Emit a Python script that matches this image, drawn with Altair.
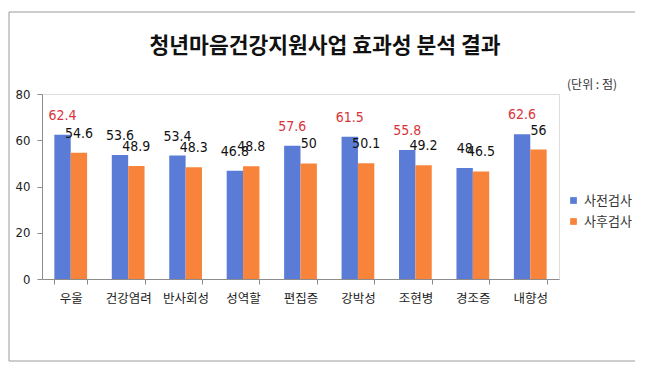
import altair as alt
import pandas as pd

title_text = "청년마음건강지원사업 효과성 분석 결과"
unit_text = "(단위 : 점)"
categories = ["우울", "건강염려", "반사회성", "성역할", "편집증", "강박성", "조현병", "경조증", "내향성"]
pre_values = [62.4, 53.6, 53.4, 46.8, 57.6, 61.5, 55.8, 48, 62.6]
post_values = [54.6, 48.9, 48.3, 48.8, 50, 50.1, 49.2, 46.5, 56]
pre_significant = [True, False, False, False, True, True, True, False, True]
series_names = ["사전검사", "사후검사"]
colors = ["#5A7CD6", "#F7843A"]

rows = []
for i, c in enumerate(categories):
    rows.append({"cat": c, "series": series_names[0], "value": pre_values[i],
                 "label": f"{pre_values[i]:g}", "lc": "#D9343A" if pre_significant[i] else "#111111"})
    rows.append({"cat": c, "series": series_names[1], "value": post_values[i],
                 "label": f"{post_values[i]:g}", "lc": "#111111"})
df = pd.DataFrame(rows)

KFONT = "Noto Sans CJK KR"
NFONT = "Liberation Sans Narrow, Arial Narrow, DejaVu Sans Condensed, Noto Sans CJK KR, sans-serif"

xenc = alt.X("cat:N", sort=categories, title=None,
             scale=alt.Scale(paddingInner=0.43, paddingOuter=0.215),
             axis=alt.Axis(labelAngle=0, labelFont=KFONT, labelFontSize=12.5, labelColor="#222222",
                           labelPadding=8, tickSize=5, tickBand="extent", domainColor="#8C8C8C",
                           tickColor="#8C8C8C"))
yenc = alt.Y("value:Q", title=None, stack=None,
             scale=alt.Scale(domain=[0, 80]),
             axis=alt.Axis(values=[0, 20, 40, 60, 80], grid=False, labelFont=NFONT, labelFontSize=13,
                           labelColor="#222222", labelPadding=7, tickSize=5,
                           domainColor="#8C8C8C", tickColor="#8C8C8C"))

bars = alt.Chart(df).mark_bar().encode(
    x=xenc,
    y=yenc,
    xOffset=alt.XOffset("series:N", sort=series_names),
    color=alt.Color("series:N", sort=series_names,
                    scale=alt.Scale(domain=series_names, range=colors),
                    legend=alt.Legend(title=None, orient="none", legendX=525, legendY=100,
                                      symbolType="square", symbolSize=45, symbolStrokeWidth=0,
                                      labelFont=KFONT, labelFontSize=13, labelColor="#333333",
                                      rowPadding=7, padding=0, labelOffset=4)),
)

labels = alt.Chart(df).mark_text(baseline="bottom", dy=-12, font=NFONT, fontSize=14).encode(
    x=alt.X("cat:N", sort=categories),
    y=alt.Y("value:Q", stack=None),
    xOffset=alt.XOffset("series:N", sort=series_names),
    text="label:N",
    color=alt.Color("lc:N", scale=None),
)

frame = alt.Chart(pd.DataFrame({"a": [0]})).mark_rect(
    fill=None, stroke="#9A9A9A", strokeWidth=1
).encode(x=alt.value(-33), x2=alt.value(594), y=alt.value(-82), y2=alt.value(267))

unit = alt.Chart(pd.DataFrame({"t": [unit_text]})).mark_text(
    font=KFONT, fontSize=12, color="#333333", align="center", baseline="middle"
).encode(text="t:N", x=alt.value(550), y=alt.value(-9))

title = alt.Chart(pd.DataFrame({"t": [title_text]})).mark_text(
    font=KFONT, fontSize=21.5, fontWeight="bold", color="#111111", align="center", baseline="middle"
).encode(text="t:N", x=alt.value(283), y=alt.value(-47))

chart = alt.layer(frame, bars, labels, unit, title).properties(
    width=517, height=185,
    padding={"left": 34, "top": 86, "right": 76, "bottom": 88},
    autosize=alt.AutoSizeParams(type="none"),
).configure_view(stroke=None).configure(background="white")

chart.save("out.html", embed_options={"renderer": "svg", "actions": False})
